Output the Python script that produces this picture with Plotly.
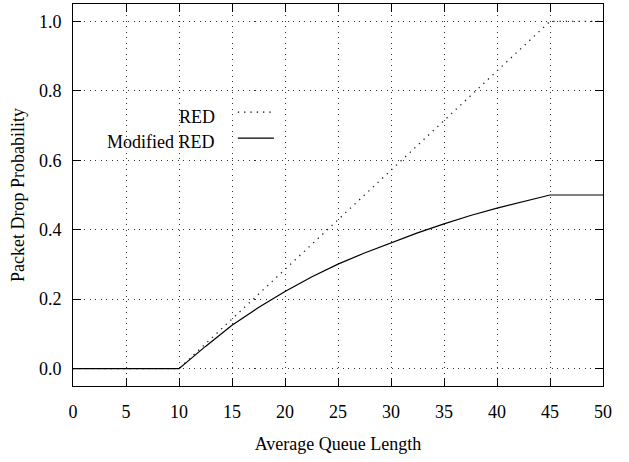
import plotly.graph_objects as go

# Data
red_x = [0, 10, 45, 50]
red_y = [0.0, 0.0, 1.0, 1.0]

mod_x = [0, 10, 12.5, 15, 17.5, 20, 22.5, 25, 27.5, 30, 32.5, 35, 37.5, 40, 42.5, 45, 50]
mod_y = [0.0, 0.0, 0.064, 0.125, 0.176, 0.222, 0.264, 0.301, 0.333, 0.362, 0.391,
         0.417, 0.441, 0.462, 0.482, 0.500, 0.500]

x_ticks = [0, 5, 10, 15, 20, 25, 30, 35, 40, 45, 50]
y_ticks = [0.0, 0.2, 0.4, 0.6, 0.8, 1.0]
y_tick_labels = ["0.0", "0.2", "0.4", "0.6", "0.8", "1.0"]

series_names = ["RED", "Modified RED"]

FONT = "Liberation Serif, Times New Roman, serif"

fig = go.Figure()
fig.add_trace(go.Scatter(x=red_x, y=red_y, mode="lines", name=series_names[0],
                         line=dict(color="#222", width=1.3, dash="1.3px,5px"),
                         showlegend=False))
fig.add_trace(go.Scatter(x=mod_x, y=mod_y, mode="lines", name=series_names[1],
                         line=dict(color="black", width=1.2),
                         showlegend=False))

# Legend drawn gnuplot-style (text right-aligned, sample to the right)
legend_rows = [(series_names[0], 0.704, 0.717, "1.3px,5px"),
               (series_names[1], 0.640, 0.649, "solid")]
for name, ty, ly, dash in legend_rows:
    fig.add_annotation(xref="paper", yref="paper", x=0.2717, y=ty, text=name,
                       showarrow=False, xanchor="right", yanchor="middle",
                       font=dict(family=FONT, size=18, color="black"))
    fig.add_shape(type="line", xref="paper", yref="paper", x0=0.311, x1=0.379,
                  y0=ly, y1=ly, line=dict(color="black", width=1.2, dash=dash))

axis_common = dict(
    showline=True, linecolor="black", linewidth=1, mirror="ticks",
    ticks="inside", ticklen=8, tickcolor="black", tickwidth=1,
    showgrid=True, gridcolor="#333", gridwidth=1, griddash="1px,4.5px",
    zeroline=False,
    tickfont=dict(family=FONT, size=18, color="black"),
)

fig.update_xaxes(range=[0, 50], tickvals=x_ticks,
                 title=dict(text="Average Queue Length", standoff=16,
                            font=dict(family=FONT, size=18, color="black")),
                 ticklabelstandoff=9, **axis_common)
fig.update_yaxes(range=[-0.05, 1.05], tickvals=y_ticks, ticktext=y_tick_labels,
                 title=dict(text="Packet Drop Probability", standoff=9,
                            font=dict(family=FONT, size=18, color="black")),
                 ticklabelstandoff=7, **axis_common)

fig.update_layout(
    width=629, height=462,
    margin=dict(l=73, r=26, t=4, b=76, autoexpand=False),
    paper_bgcolor="white", plot_bgcolor="white",
    font=dict(family=FONT, color="black"),
)

fig.write_html("out.html", config={"displayModeBar": False},
               post_script="document.body.style.margin='0px';")
